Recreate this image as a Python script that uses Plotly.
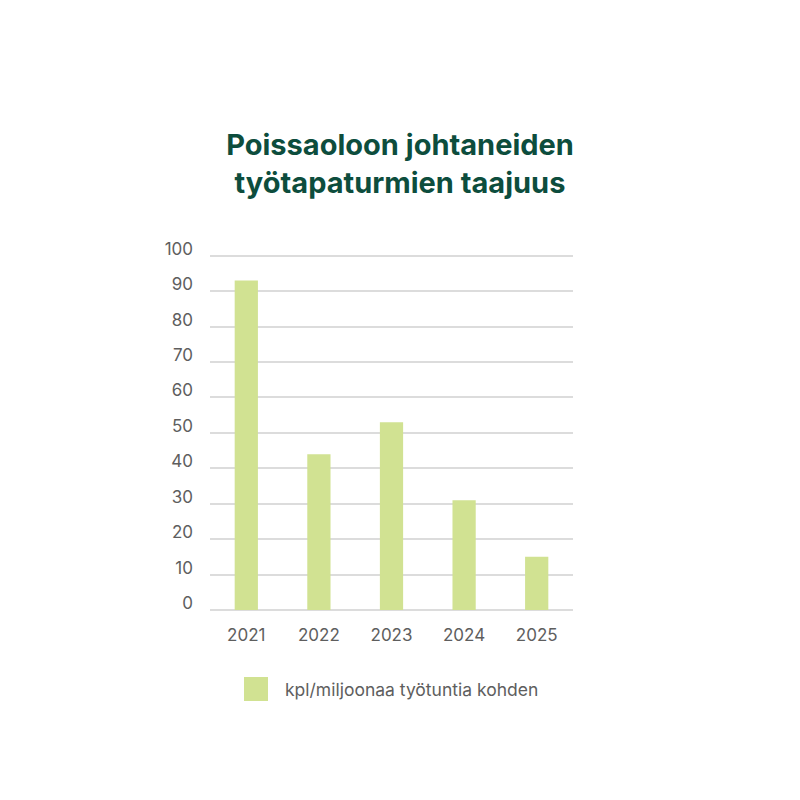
import plotly.graph_objects as go

# Chart data
years = ["2021", "2022", "2023", "2024", "2025"]
frequency = [93, 44, 53, 31, 15]
series_name = "kpl/miljoonaa työtuntia kohden"
title_text = "Poissaoloon johtaneiden<br>työtapaturmien taajuus"
y_ticks = list(range(0, 101, 10))

bar_color = "#d1e292"
title_color = "#0d4d3d"
text_color = "#5e5e5e"
grid_color = "#dcdcdc"

fig = go.Figure()

fig.add_trace(go.Bar(
    x=years,
    y=frequency,
    name=series_name,
    marker=dict(color=bar_color, line=dict(width=0)),
    width=0.32,
    showlegend=False,
))

# Legend drawn as a square + label below the plot
fig.add_shape(
    type="rect", xref="paper", yref="paper",
    x0=(244 - 210) / 363, x1=(268 - 210) / 363,
    y0=-(677 - 610) / 356, y1=-(701 - 610) / 356,
    fillcolor=bar_color, line=dict(width=0),
)
fig.add_annotation(
    text=series_name, xref="paper", yref="paper",
    x=(283 - 210) / 363, y=-(689 - 610) / 356,
    xanchor="left", yanchor="middle", showarrow=False,
    font=dict(size=17.5, color=text_color, family="Inter"),
)

fig.update_layout(
    width=800,
    height=800,
    margin=dict(l=202, r=235, t=246, b=198),
    paper_bgcolor="white",
    plot_bgcolor="white",
    title=dict(
        text="<b>" + title_text + "</b>",
        x=(400 - 8) / 800, xanchor="center",
        y=1 - 147 / 800, yanchor="middle",
        font=dict(size=29, color=title_color, family="Inter"),
    ),
    font=dict(family="Inter", color=text_color, size=17),
    bargap=0.68,
)

fig.update_xaxes(
    showgrid=False,
    showline=False,
    ticks="",
    ticklabelstandoff=13,
    tickfont=dict(size=17, color=text_color),
)
fig.update_yaxes(
    range=[0, 100.5],
    tickvals=y_ticks,
    showgrid=True,
    gridcolor=grid_color,
    gridwidth=1.5,
    zeroline=True,
    zerolinecolor=grid_color,
    zerolinewidth=1.5,
    ticks="",
    ticklabelstandoff=16,
    ticklabelshift=-7,
    tickfont=dict(size=17, color=text_color),
)

fig.write_html("out.html")
